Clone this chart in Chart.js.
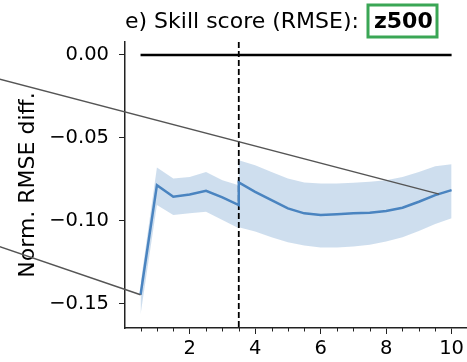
<!DOCTYPE html>
<html>
<head>
<meta charset="utf-8">
<script src="https://cdn.jsdelivr.net/npm/chart.js@4"></script>
<style>
  html, body { margin: 0; padding: 0; background: #fff; }
</style>
</head>
<body>
<canvas id="myChart" width="467" height="362"></canvas>
<script>
// lead time (x) and skill score values
const leadTimes = [0.5, 1, 1.5, 2, 2.5, 3, 3.5, 3.5, 4, 4.5, 5, 5.5, 6, 6.5, 7, 7.5, 8, 8.5, 9, 9.5, 10];
const meanDiff = [-0.1447, -0.0786, -0.0856, -0.0842, -0.0820, -0.0860, -0.0906, -0.0770, -0.0826, -0.0876, -0.0926, -0.0956, -0.0966, -0.0962, -0.0956, -0.0952, -0.0942, -0.0922, -0.0886, -0.0846, -0.0816];
const upperDiff = [-0.1380, -0.0680, -0.0746, -0.0736, -0.0706, -0.0756, -0.0786, -0.0636, -0.0666, -0.0706, -0.0746, -0.0770, -0.0776, -0.0776, -0.0772, -0.0766, -0.0756, -0.0736, -0.0706, -0.0672, -0.0660];
const lowerDiff = [-0.1567, -0.0906, -0.0966, -0.0956, -0.0946, -0.0996, -0.1046, -0.1040, -0.1066, -0.1100, -0.1130, -0.1150, -0.1162, -0.1162, -0.1156, -0.1146, -0.1126, -0.1100, -0.1062, -0.1020, -0.0986];

// reference lines
const zeroLineX = [0.5, 10];
const splitX = 3.5;

// connector lines to the neighbouring panel (start off to the left of the axes)
const connectorA = [{ x: -3.8, y: -0.0146 }, { x: 9.62, y: -0.0840 }];
const connectorB = [{ x: -3.8, y: -0.1157 }, { x: 0.5, y: -0.1447 }];

// axes
const xMin = 0.025, xMax = 10.45;
const yMin = -0.1648, yMax = 0.0078;
const xMajorTicks = [2, 4, 6, 8, 10];
const xMinorTicks = [0.5, 1, 1.5, 2.5, 3, 3.5, 4.5, 5, 5.5, 6.5, 7, 7.5, 8.5, 9, 9.5];
const yTicks = [0, -0.05, -0.10, -0.15];

const titleText = "e) Skill score (RMSE):";
const titleVar = "z500";

const pts = (xs, ys) => xs.map((x, i) => ({ x: x, y: ys[i] }));
const fontFam = '"DejaVu Sans", sans-serif';

const extras = {
  id: "extras",
  afterDraw(chart) {
    const ctx = chart.ctx;
    const xs = chart.scales.x;
    const bottom = chart.chartArea.bottom;
    ctx.save();
    // minor ticks
    ctx.strokeStyle = "#222";
    ctx.lineWidth = 1;
    xMinorTicks.forEach((v) => {
      const px = Math.round(xs.getPixelForValue(v)) + 0.5;
      ctx.beginPath();
      ctx.moveTo(px, bottom);
      ctx.lineTo(px, bottom + 3.5);
      ctx.stroke();
    });
    // title
    ctx.fillStyle = "#000";
    ctx.textBaseline = "alphabetic";
    ctx.font = "22px " + fontFam;
    ctx.fillText(titleText, 125, 28);
    ctx.font = "bold 22px " + fontFam;
    ctx.fillStyle = "#fff";
    ctx.fillRect(368, 5, 69, 32);
    ctx.strokeStyle = "#3aa655";
    ctx.lineWidth = 3;
    ctx.strokeRect(368, 5, 69, 32);
    ctx.fillStyle = "#000";
    ctx.fillText(titleVar, 374, 28);
    ctx.restore();
  },
};

const ctx = document.querySelector("#myChart").getContext("2d");

new Chart(ctx, {
  type: "line",
  data: {
    datasets: [
      {
        // mean
        data: pts(leadTimes, meanDiff),
        borderColor: "#4a84c0",
        borderWidth: 2.5,
        pointRadius: 0,
        order: 1,
      },
      {
        // band upper
        data: pts(leadTimes, upperDiff),
        borderWidth: 0,
        borderColor: "rgba(0,0,0,0)",
        pointRadius: 0,
        fill: false,
        order: 4,
      },
      {
        // band lower
        data: pts(leadTimes, lowerDiff),
        borderWidth: 0,
        borderColor: "rgba(0,0,0,0)",
        backgroundColor: "rgba(74, 132, 192, 0.27)",
        pointRadius: 0,
        fill: "-1",
        order: 5,
      },
      {
        // zero line
        data: zeroLineX.map((x) => ({ x: x, y: 0 })),
        borderColor: "#000",
        borderWidth: 2.5,
        pointRadius: 0,
        order: 3,
      },
      {
        // split
        data: [{ x: splitX, y: yMax }, { x: splitX, y: yMin }],
        borderColor: "#000",
        borderWidth: 1.8,
        borderDash: [6, 3],
        pointRadius: 0,
        order: 2,
      },
      {
        data: connectorA,
        borderColor: "#555",
        borderWidth: 1.5,
        pointRadius: 0,
        clip: false,
        order: 0,
      },
      {
        data: connectorB,
        borderColor: "#555",
        borderWidth: 1.5,
        pointRadius: 0,
        clip: false,
        order: 0,
      },
    ],
  },
  options: {
    responsive: false,
    animation: false,
    devicePixelRatio: 1,
    layout: { padding: { top: 42, left: 0, right: 0, bottom: 0 } },
    plugins: {
      legend: { display: false },
      tooltip: { enabled: false },
      title: { display: false },
    },
    scales: {
      x: {
        type: "linear",
        min: xMin,
        max: xMax,
        afterFit: (s) => { s.height = 34; },
        afterBuildTicks: (s) => { s.ticks = xMajorTicks.map((v) => ({ value: v })); },
        ticks: {
          includeBounds: false,
          color: "#000",
          padding: 3,
          maxRotation: 0,
          font: { family: fontFam, size: 19.5 },
          callback: (v) => String(v),
        },
        grid: { drawOnChartArea: false, drawTicks: true, tickLength: 6, color: "#222", tickWidth: 1 },
        border: { display: true, color: "#222", width: 1.5 },
      },
      y: {
        min: yMin,
        max: yMax,
        afterFit: (s) => { s.width = 125; },
        afterBuildTicks: (s) => { s.ticks = yTicks.map((v) => ({ value: v })); },
        ticks: {
          includeBounds: false,
          color: "#000",
          padding: 10,
          font: { family: fontFam, size: 19.5 },
          callback: (v) => (v === 0 ? "0.00" : v.toFixed(2).replace("-", "\u2212")),
        },
        grid: { drawOnChartArea: false, drawTicks: true, tickLength: 6, color: "#222", tickWidth: 1 },
        border: { display: true, color: "#222", width: 1.5 },
        title: {
          display: true,
          text: "Norm. RMSE diff.",
          color: "#000",
          font: { family: fontFam, size: 22 },
          padding: { top: 15, bottom: 0 },
        },
      },
    },
  },
  plugins: [extras],
});
</script>
</body>
</html>
